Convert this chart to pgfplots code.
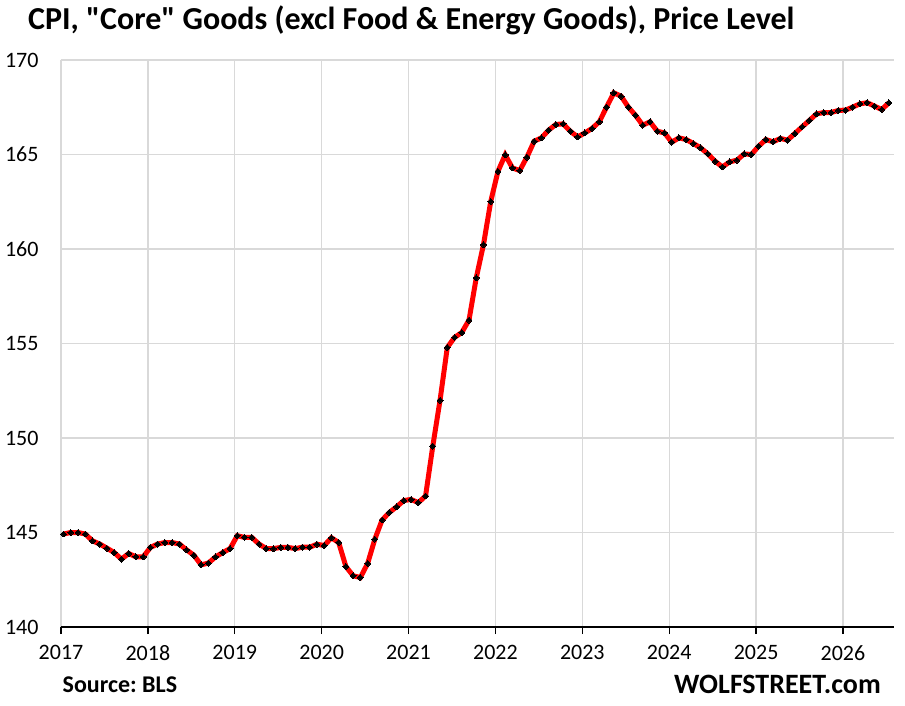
\documentclass[border=0pt]{standalone}
\usepackage{pgfplots}
\usepackage{pgfplotstable}
\pgfplotsset{compat=1.18}
\usepackage{fontspec}
\setmainfont{Carlito}
\newfontfamily\titlefont{Carlito}[Ligatures=TeXOff]
\frenchspacing
\pgfplotstableread{
i v
0 144.92
1 145.00
2 145.00
3 144.92
4 144.56
5 144.39
6 144.17
7 143.94
8 143.59
9 143.89
10 143.71
11 143.71
12 144.21
13 144.39
14 144.47
15 144.47
16 144.39
17 144.08
18 143.80
19 143.29
20 143.38
21 143.71
22 143.94
23 144.15
24 144.83
25 144.74
26 144.74
27 144.39
28 144.15
29 144.15
30 144.21
31 144.21
32 144.15
33 144.22
34 144.22
35 144.38
36 144.31
37 144.72
38 144.47
39 143.20
40 142.71
41 142.62
42 143.36
43 144.65
44 145.66
45 146.06
46 146.36
47 146.69
48 146.75
49 146.58
50 146.93
51 149.57
52 152.00
53 154.79
54 155.32
55 155.58
56 156.24
57 158.47
58 160.23
59 162.51
60 164.11
61 164.98
62 164.29
63 164.15
64 164.86
65 165.70
66 165.88
67 166.29
68 166.59
69 166.62
70 166.23
71 165.93
72 166.14
73 166.38
74 166.73
75 167.51
76 168.26
77 168.09
78 167.51
79 167.07
80 166.55
81 166.73
82 166.23
83 166.14
84 165.65
85 165.88
86 165.79
87 165.58
88 165.35
89 165.03
90 164.64
91 164.34
92 164.61
93 164.70
94 165.03
95 165.00
96 165.44
97 165.79
98 165.67
99 165.85
100 165.76
101 166.11
102 166.46
103 166.80
104 167.15
105 167.22
106 167.22
107 167.33
108 167.35
109 167.51
110 167.68
111 167.74
112 167.56
113 167.38
114 167.74
}\cpidata
\begin{document}
\begin{tikzpicture}
\useasboundingbox (-61pt,-78pt) rectangle (844pt,627pt);
\begin{axis}[
  at={(0,0)}, anchor=south west,
  scale only axis,
  width=833pt, height=567pt,
  xmin=2017, xmax=2026.587,
  ymin=140, ymax=170,
  xtick={2017,2018,...,2026},
  ytick={140,145,...,170},
  xticklabel style={/pgf/number format/1000 sep={}, font=\fontsize{22}{26}\selectfont, yshift=-8pt},
  yticklabel style={font=\fontsize{22}{26}\selectfont, xshift=-12pt, anchor=east},
  /pgf/number format/assume math mode=true,
  axis lines*=left,
  x axis line style={black, line width=1.3pt},
  y axis line style={draw=none},
  xtick style={black, line width=1.3pt},
  tick align=outside,
  major tick length=7pt,
  ytick style={draw=none},
  grid=major,
  major grid style={draw=gray!30, line width=1.3pt},
  clip=false,
]
\addplot[red, line width=5pt, mark=square*, mark size=2.1pt,
  mark options={black, fill=black, line width=0pt, rotate=45}]
  table[x expr={2017+(\thisrow{i}+0.35)/12}, y=v] {\cpidata};
\end{axis}
\node[anchor=west, font=\titlefont\fontsize{32}{36}\selectfont\bfseries, inner sep=0pt] at (-33pt,607pt)
  {CPI, "Core" Goods (excl Food \& Energy Goods), Price Level};
\node[anchor=west, font=\fontsize{24}{28}\selectfont\bfseries, inner sep=0pt] at (1.5pt,-58pt) {Source: BLS};
\node[anchor=east, font=\fontsize{28}{32}\selectfont\bfseries, inner sep=0pt] at (820pt,-57pt) {WOLFSTREET.com};
\end{tikzpicture}
\end{document}
